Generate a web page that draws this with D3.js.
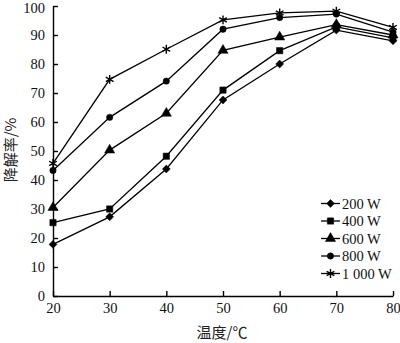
<!DOCTYPE html>
<html><head><meta charset="utf-8">
<script src="https://cdn.jsdelivr.net/npm/d3@7"></script>
<style>body{margin:0;background:#fff}</style>
</head><body>
<svg id="c" width="400" height="343"></svg>
<script>
const temps = [20, 30, 40, 50, 60, 70, 80];
const seriesNames = ["200 W", "400 W", "600 W", "800 W", "1 000 W"];
const s200  = [17.8, 27.3, 43.8, 67.6, 80.0, 91.7, 88.0];
const s400  = [25.3, 30.0, 48.2, 71.0, 84.6, 92.8, 89.0];
const s600  = [30.5, 50.3, 63.0, 84.7, 89.3, 93.6, 90.0];
const s800  = [43.3, 61.6, 74.1, 92.0, 96.0, 97.2, 91.0];
const s1000 = [45.7, 74.7, 85.1, 95.2, 97.6, 98.2, 92.6];
const yTicks = [0,10,20,30,40,50,60,70,80,90,100];
const xTicks = [20,30,40,50,60,70,80];
const allSeries = [s200, s400, s600, s800, s1000];
const symbols = [d3.symbolDiamond2, d3.symbolSquare, d3.symbolTriangle, d3.symbolCircle, d3.symbolAsterisk];
const symSizes = [40, 40, 45, 32, 55];

const svg = d3.select("#c");
const x = d3.scaleLinear().domain([20, 80]).range([53, 393]);
const y = d3.scaleLinear().domain([0, 100]).range([296, 6]);
const font = "'Liberation Serif','Times New Roman',serif";

const xAxis = d3.axisBottom(x).tickValues(xTicks).tickSizeInner(-5).tickSizeOuter(0).tickPadding(7);
const gx = svg.append("g").attr("transform", "translate(0,296)").call(xAxis);
const yAxis = d3.axisLeft(y).tickValues(yTicks).tickSizeInner(-5).tickSizeOuter(0).tickPadding(8);
const gy = svg.append("g").attr("transform", "translate(53,0)").call(yAxis);
[gx, gy].forEach(g => {
  g.selectAll("path,line").attr("stroke", "#000").attr("stroke-width", 1.4);
  g.selectAll("text").attr("font-family", font).attr("font-size", 14.5).attr("fill", "#111");
});
gx.selectAll("text").attr("dy", "0.71em");
gy.selectAll("text").filter(d => d === 100).attr("dy", "0.42em");

const line = d3.line().x((d, i) => x(temps[i])).y(d => y(d));
allSeries.forEach((s, k) => {
  svg.append("path").datum(s).attr("d", line).attr("fill", "none")
    .attr("stroke", "#000").attr("stroke-width", 1.3);
  const sym = d3.symbol().type(symbols[k]).size(symSizes[k]);
  svg.append("g").selectAll("path").data(s).join("path")
    .attr("transform", (d, i) => `translate(${x(temps[i])},${y(d)})`)
    .attr("d", sym)
    .attr("fill", k === 4 ? "none" : "#000")
    .attr("stroke", "#000").attr("stroke-width", k === 4 ? 1.4 : 0.5);
});

// legend
const lg = svg.append("g");
seriesNames.forEach((n, k) => {
  const yy = 203.5 + k * 17.5;
  lg.append("line").attr("x1", 321).attr("x2", 340).attr("y1", yy).attr("y2", yy)
    .attr("stroke", "#000").attr("stroke-width", 1.3);
  lg.append("path").attr("transform", `translate(330.5,${yy})`)
    .attr("d", d3.symbol().type(symbols[k]).size(symSizes[k])())
    .attr("fill", k === 4 ? "none" : "#000").attr("stroke", "#000")
    .attr("stroke-width", k === 4 ? 1.4 : 0.5);
  lg.append("text").attr("x", 342).attr("y", yy).attr("dy", "0.35em")
    .attr("font-family", font).attr("font-size", 14.5).attr("fill", "#111").text(n);
});

svg.append("text").attr("x", 222).attr("y", 338)
  .attr("text-anchor", "middle").attr("font-family", "'Noto Sans CJK SC', serif")
  .attr("font-size", 15).attr("fill", "#222").text("温度/℃");
svg.append("text").attr("transform", "translate(16,150) rotate(-90)")
  .attr("text-anchor", "middle").attr("font-family", "'Noto Sans CJK SC', serif")
  .attr("font-size", 15).attr("fill", "#222").text("降解率/%");
</script>
</body></html>
